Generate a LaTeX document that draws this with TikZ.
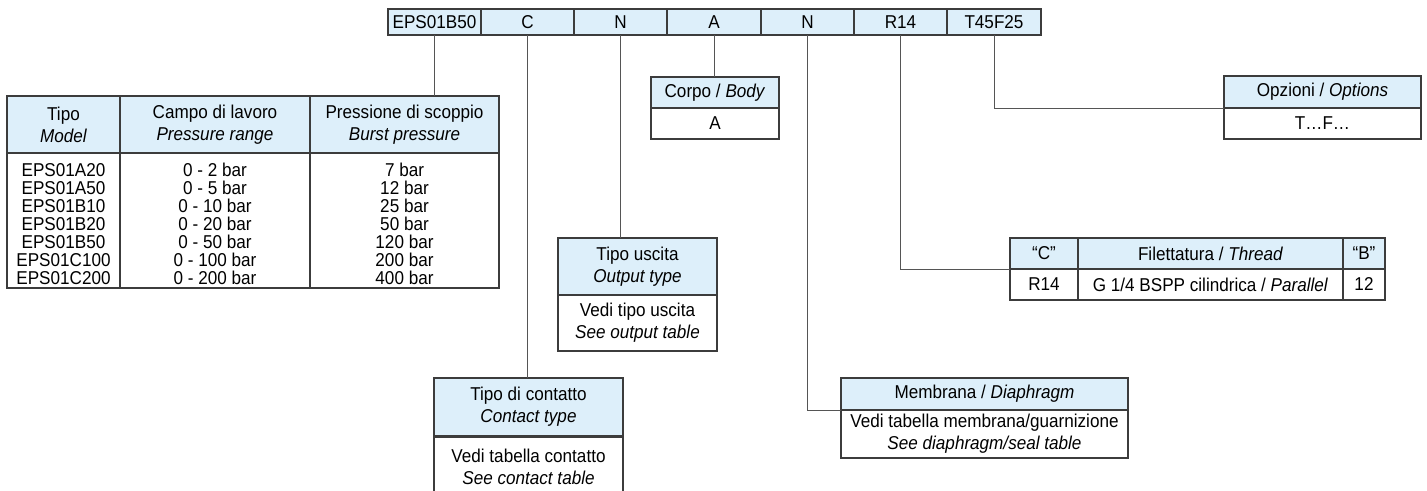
\documentclass[tikz,border=0pt]{standalone}
\usepackage{fontspec}
\setmainfont{Liberation Sans}[FakeStretch=0.92]
\definecolor{hdr}{RGB}{221,239,250}
\definecolor{bd}{RGB}{60,60,60}
\definecolor{cn}{RGB}{85,85,85}
\tikzset{
  cell/.style={draw=bd, line width=1.1pt, inner sep=0pt, outer sep=0pt, align=center,
    font=\fontsize{18.6}{22}\selectfont, text=black},
  hcell/.style={cell, fill=hdr},
  rows/.style={inner sep=0pt, align=center, font=\fontsize{18.6}{18}\selectfont, text=black},
  conn/.style={draw=cn, line width=1pt},
}
\begin{document}
\begin{tikzpicture}[x=1pt,y=-1pt]
\useasboundingbox (0,0) rectangle (1427,490);
\clip (0,0) rectangle (1427,490);
% top code bar
\node[hcell, minimum width=93pt, minimum height=26pt] (c1) at (434.5,22) {EPS01B50};
\node[hcell, minimum width=93pt, minimum height=26pt] (c2) at (527.5,22) {C};
\node[hcell, minimum width=93pt, minimum height=26pt] (c3) at (620.5,22) {N};
\node[hcell, minimum width=94pt, minimum height=26pt] (c4) at (714,22) {A};
\node[hcell, minimum width=93pt, minimum height=26pt] (c5) at (807.5,22) {N};
\node[hcell, minimum width=93pt, minimum height=26pt] (c6) at (900.5,22) {R14};
\node[hcell, minimum width=94pt, minimum height=26pt] (c7) at (994,22) {T45F25};
% model table
\node[hcell, minimum width=113pt, minimum height=57pt] (m1h) at (63.5,124.5) {Tipo\\\textit{Model}};
\node[hcell, minimum width=190pt, minimum height=57pt] (m2h) at (215,124.5) {Campo di lavoro\\\textit{Pressure range}};
\node[hcell, minimum width=189pt, minimum height=57pt] (m3h) at (404.5,124.5) {Pressione di scoppio\\\textit{Burst pressure}};
\node[cell, minimum width=113pt, minimum height=135pt] (m1b) at (63.5,220.5) {};
\node[cell, minimum width=190pt, minimum height=135pt] (m2b) at (215,220.5) {};
\node[cell, minimum width=189pt, minimum height=135pt] (m3b) at (404.5,220.5) {};
\node[rows] (m1t) at (63.5,224) {EPS01A20\\EPS01A50\\EPS01B10\\EPS01B20\\EPS01B50\\EPS01C100\\EPS01C200};
\node[rows] (m2t) at (215,224) {0 - 2 bar\\0 - 5 bar\\0 - 10 bar\\0 - 20 bar\\0 - 50 bar\\0 - 100 bar\\0 - 200 bar};
\node[rows] (m3t) at (404.5,224) {7 bar\\12 bar\\25 bar\\50 bar\\120 bar\\200 bar\\400 bar};
% contact type
\node[hcell, minimum width=189pt, minimum height=58pt] (kh) at (528.5,407) {Tipo di contatto\\\textit{Contact type}};
\node[cell, minimum width=189pt, minimum height=60pt] (kb) at (528.5,467) {Vedi tabella contatto\\\textit{See contact table}};
% output type
\node[hcell, minimum width=159pt, minimum height=57pt] (oh) at (637.5,266.5) {Tipo uscita\\\textit{Output type}};
\node[cell, minimum width=159pt, minimum height=56pt] (ob) at (637.5,323) {Vedi tipo uscita\\\textit{See output table}};
% body
\node[hcell, minimum width=128pt, minimum height=31pt] (bh) at (715,92.5) {Corpo / \textit{Body}};
\node[cell, minimum width=128pt, minimum height=31pt] (bb) at (715,123.5) {A};
% diaphragm
\node[hcell, minimum width=287pt, minimum height=32pt] (dh) at (984.5,394) {Membrana / \textit{Diaphragm}};
\node[cell, minimum width=287pt, minimum height=48pt] (db) at (984.5,434) {Vedi tabella membrana/guarnizione\\\textit{See diaphragm/seal table}};
% thread
\node[hcell, minimum width=68pt, minimum height=31pt] (t1h) at (1044,253.5) {“C”};
\node[hcell, minimum width=265pt, minimum height=31pt] (t2h) at (1210.5,253.5) {Filettatura / \textit{Thread}};
\node[hcell, minimum width=42pt, minimum height=31pt] (t3h) at (1364,253.5) {“B”};
\node[cell, minimum width=68pt, minimum height=31pt] (t1b) at (1044,284.5) {R14};
\node[cell, minimum width=265pt, minimum height=31pt] (t2b) at (1210.5,284.5) {G 1/4 BSPP cilindrica / \textit{Parallel}};
\node[cell, minimum width=42pt, minimum height=31pt] (t3b) at (1364,284.5) {12};
% options
\node[hcell, minimum width=197pt, minimum height=32pt] (ph) at (1322.5,92) {Opzioni / \textit{Options}};
\node[cell, minimum width=197pt, minimum height=31pt] (pb) at (1322.5,123.5) {T…F…};
% connectors
\draw[conn] (c1.south) -- (c1.south |- m3h.north);
\draw[conn] (c2.south) -- (c2.south |- kh.north);
\draw[conn] (c3.south) -- (c3.south |- oh.north);
\draw[conn] (c4.south) -- (c4.south |- bh.north);
\draw[conn] (c5.south) |- (dh.south west);
\draw[conn] (c6.south) |- (t1h.south west);
\draw[conn] (c7.south) |- (ph.south west);
\end{tikzpicture}
\end{document}
